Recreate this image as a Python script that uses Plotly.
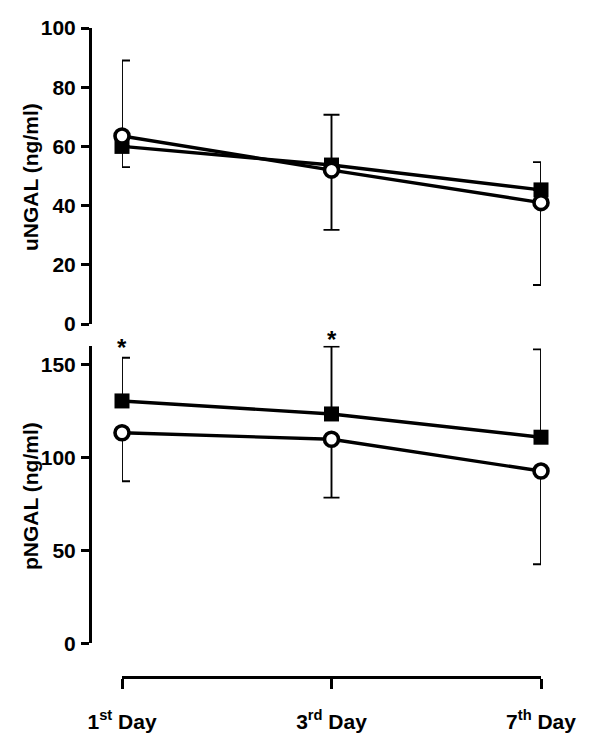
import plotly.graph_objects as go

# ---- data ----
days = ["1st Day", "3rd Day", "7th Day"]
day_labels = ["1<sup>st</sup> Day", "3<sup>rd</sup> Day", "7<sup>th</sup> Day"]

u_square = [60.0, 53.7, 45.3]
u_square_err_up = [29.0, 17.0, 9.4]
u_circle = [63.5, 52.0, 41.0]
u_circle_err_down = [10.5, 20.2, 27.8]

p_square = [130.3, 123.3, 110.8]
p_square_err_up = [23.2, 36.2, 47.2]
p_circle = [113.2, 109.7, 92.6]
p_circle_err_down = [26.1, 31.4, 50.1]

sig_days = [0, 1]
sig_y = [158.8, 163.3]

u_ticks = [0, 20, 40, 60, 80, 100]
p_ticks = [0, 50, 100, 150]

# page body has an 8px default margin -> offset all pixel positions
OFF = 8
W, H = 596 - OFF, 755 - OFF
FONT = "Liberation Sans, Arial, sans-serif"
xpos = list(range(len(days)))


def px_x(p):
    return (p - OFF) / W


def px_y(p):
    return (H - (p - OFF)) / H


fig = go.Figure()


def add_pair(sq, sq_up, ci, ci_dn, yaxis):
    fig.add_trace(go.Scatter(
        x=xpos, y=sq, mode="lines+markers", yaxis=yaxis, xaxis="x",
        line=dict(color="black", width=3.4),
        marker=dict(symbol="square", size=15, color="black"),
        error_y=dict(type="data", symmetric=False, array=sq_up,
                     arrayminus=[0] * len(sq), color="black",
                     thickness=1.9, width=8),
        cliponaxis=False, showlegend=False))
    fig.add_trace(go.Scatter(
        x=xpos, y=ci, mode="lines+markers", yaxis=yaxis, xaxis="x",
        line=dict(color="black", width=3.4),
        marker=dict(symbol="circle", size=14, color="white",
                    line=dict(color="black", width=3.6)),
        error_y=dict(type="data", symmetric=False, array=[0] * len(ci),
                     arrayminus=ci_dn, color="black",
                     thickness=1.9, width=8),
        cliponaxis=False, showlegend=False))


add_pair(u_square, u_square_err_up, u_circle, u_circle_err_down, "y")
add_pair(p_square, p_square_err_up, p_circle, p_circle_err_down, "y2")

tickfont = dict(family=FONT, size=21, color="black", weight="bold")

yaxis_common = dict(
    anchor="free", position=px_x(90), showgrid=False, zeroline=False,
    showline=True, linecolor="black", linewidth=3,
    ticks="outside", ticklen=8, tickwidth=3, tickcolor="black",
    tickfont=tickfont, ticklabelstandoff=1, automargin=False,
)

y2_domain = [px_y(643.3), px_y(345.7)]
y2_range = [0, 160]

fig.update_layout(
    width=W, height=H,
    margin=dict(l=0, r=0, t=0, b=0, autoexpand=False),
    paper_bgcolor="white", plot_bgcolor="white",
    xaxis=dict(
        domain=[px_x(122), px_x(541)], range=[0, 2],
        anchor="free", position=px_y(677), automargin=False,
        tickvals=xpos, ticktext=day_labels,
        showgrid=False, zeroline=False,
        showline=True, linecolor="black", linewidth=3,
        ticks="outside", ticklen=10, tickwidth=3, tickcolor="black",
        tickfont=dict(family=FONT, size=21, color="black", weight="bold"),
        ticklabelstandoff=15,
    ),
    yaxis=dict(domain=[px_y(324), px_y(28)], range=[0, 100],
               tickvals=u_ticks, **yaxis_common),
    yaxis2=dict(domain=y2_domain, range=y2_range,
                tickvals=p_ticks, **yaxis_common),
)

fig.add_annotation(text="uNGAL (ng/ml)", textangle=-90, xref="paper", yref="paper",
                   x=px_x(30), y=px_y(177), xanchor="center", yanchor="middle",
                   showarrow=False,
                   font=dict(family=FONT, size=21, color="black", weight="bold"))
fig.add_annotation(text="pNGAL (ng/ml)", textangle=-90, xref="paper", yref="paper",
                   x=px_x(30), y=px_y(496), xanchor="center", yanchor="middle",
                   showarrow=False,
                   font=dict(family=FONT, size=21, color="black", weight="bold"))


def y2_to_paper(v):
    d0, d1 = y2_domain
    r0, r1 = y2_range
    return d0 + (v - r0) / (r1 - r0) * (d1 - d0)


for d, yv in zip(sig_days, sig_y):
    fig.add_annotation(text="*", x=d, y=y2_to_paper(yv), xref="x", yref="paper",
                       xanchor="center", yanchor="middle", showarrow=False,
                       font=dict(family=FONT, size=24, color="black", weight="bold"))

fig.write_html("out.html")
